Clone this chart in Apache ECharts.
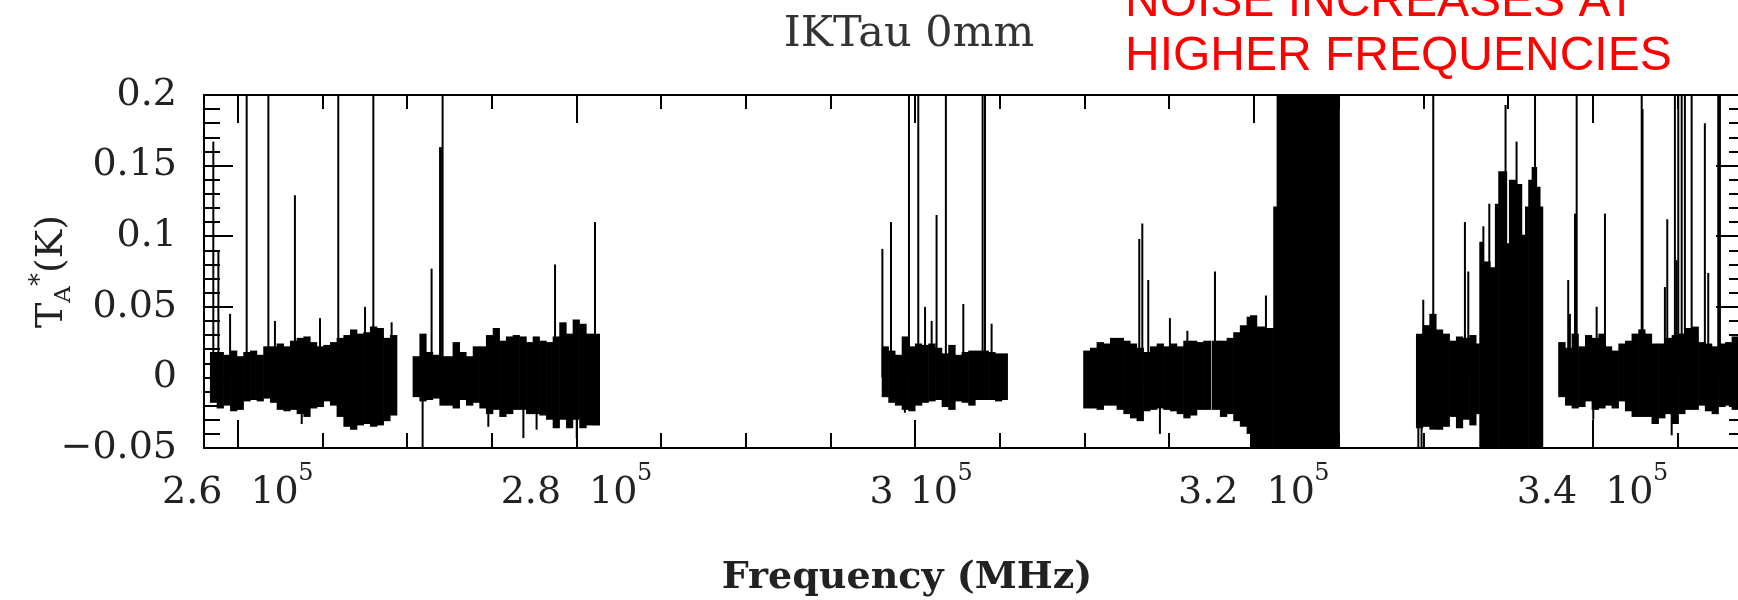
<!DOCTYPE html>
<html>
<head>
<meta charset="utf-8">
<script src="https://cdn.jsdelivr.net/npm/echarts@6/dist/echarts.min.js"></script>
<style>
  html, body { margin: 0; padding: 0; background: #fff; }
  #chart { width: 1738px; height: 600px; }
</style>
</head>
<body>
<div id="chart"></div>
<script>
// Frequency axis ticks (MHz)
const majorFreqTicks = [260000, 280000, 300000, 320000, 340000];
const minorFreqTicks = [265000, 270000, 275000, 285000, 290000, 295000, 305000, 310000,
  315000, 325000, 330000, 335000, 345000];
const freqExponent = '5';

// Baseline noise envelope per observed sub-band: [freq MHz, upper K, lower K];
// each row holds until the next row's frequency, the last row closes the band.
const bandA = [
  [258350, 0.018, -0.018], [258750, 0.018, -0.022], [259140, 0.016, -0.020], [259540, 0.019, -0.024],
  [259930, 0.015, -0.023], [260320, 0.018, -0.017], [260720, 0.019, -0.016], [261110, 0.016, -0.017],
  [261500, 0.022, -0.015], [261900, 0.022, -0.018], [262290, 0.024, -0.023], [262690, 0.022, -0.024],
  [263080, 0.026, -0.023], [263470, 0.028, -0.026], [263870, 0.029, -0.028], [264260, 0.025, -0.022],
  [264650, 0.022, -0.021], [265050, 0.023, -0.017], [265440, 0.025, -0.020], [265830, 0.028, -0.028],
  [266230, 0.030, -0.035], [266620, 0.034, -0.037], [267020, 0.031, -0.034], [267410, 0.032, -0.033],
  [267800, 0.036, -0.035], [268200, 0.035, -0.034], [268590, 0.028, -0.031], [268980, 0.030, -0.027],
  [269380, null, null]
];
const bandB = [
  [270320, 0.015, -0.014], [270720, 0.031, -0.017], [271110, 0.018, -0.016], [271500, 0.016, -0.015],
  [271900, 0.015, -0.020], [272290, 0.015, -0.020], [272680, 0.025, -0.022], [273080, 0.018, -0.016],
  [273470, 0.015, -0.020], [273870, 0.022, -0.018], [274260, 0.022, -0.022], [274650, 0.030, -0.026],
  [275050, 0.035, -0.023], [275440, 0.026, -0.028], [275830, 0.029, -0.026], [276230, 0.030, -0.023],
  [276620, 0.029, -0.023], [277020, 0.025, -0.026], [277410, 0.029, -0.026], [277800, 0.026, -0.027],
  [278200, 0.025, -0.030], [278590, 0.029, -0.036], [278980, 0.039, -0.030], [279380, 0.031, -0.036],
  [279770, 0.041, -0.030], [280160, 0.038, -0.036], [280560, 0.031, -0.034], [280950, 0.031, -0.034],
  [281350, null, null]
];
const bandC = [
  [298020, 0.022, -0.014], [298410, 0.019, -0.018], [298800, 0.016, -0.020], [299200, 0.029, -0.023],
  [299590, 0.022, -0.024], [299980, 0.024, -0.020], [300380, 0.023, -0.018], [300770, 0.024, -0.017],
  [301170, 0.021, -0.016], [301560, 0.017, -0.021], [301950, 0.023, -0.023], [302350, 0.016, -0.017],
  [302740, 0.018, -0.018], [303130, 0.019, -0.020], [303530, 0.019, -0.016], [303920, 0.019, -0.016],
  [304310, 0.018, -0.016], [304710, 0.017, -0.017], [305100, 0.017, -0.016], [305440, null, null]
];
const bandD = [
  [309920, 0.019, -0.022], [310320, 0.021, -0.022], [310710, 0.025, -0.023], [311110, 0.024, -0.020],
  [311500, 0.028, -0.020], [311890, 0.028, -0.023], [312290, 0.026, -0.026], [312680, 0.024, -0.029],
  [313070, 0.021, -0.031], [313470, 0.018, -0.024], [313860, 0.022, -0.023], [314260, 0.024, -0.022],
  [314650, 0.022, -0.023], [315040, 0.024, -0.024], [315440, 0.022, -0.026], [315830, 0.026, -0.029],
  [316220, 0.026, -0.027], [316620, 0.025, -0.023], [317010, 0.026, -0.023], [317450, null, null]
];
const bandE = [
  [317520, 0.026, -0.023], [317990, 0.026, -0.028], [318390, 0.028, -0.026], [318780, 0.032, -0.031],
  [319170, 0.037, -0.035], [319570, 0.043, -0.040], [319770, 0.044, -0.120], [320160, 0.036, -0.120],
  [320650, 0.035, -0.120], [321140, 0.121, -0.120], [321340, 0.300, -0.120], [325040, null, null]
];
const bandF = [
  [329570, 0.031, -0.036], [329960, 0.037, -0.035], [330360, 0.045, -0.037], [330750, 0.034, -0.037],
  [331140, 0.031, -0.035], [331540, 0.026, -0.028], [331930, 0.029, -0.036], [332320, 0.028, -0.030],
  [332720, 0.030, -0.034], [333110, 0.024, -0.026], [333310, 0.096, -0.120], [333510, 0.082, -0.120],
  [333700, 0.082, -0.120], [333940, 0.078, -0.120], [334230, 0.123, -0.120], [334430, 0.146, -0.120],
  [334820, 0.146, -0.120], [334920, 0.095, -0.120], [335060, 0.140, -0.120], [335510, 0.137, -0.120],
  [335810, 0.101, -0.120], [336010, 0.121, -0.120], [336200, 0.140, -0.120], [336400, 0.149, -0.120],
  [336690, 0.135, -0.120], [336890, 0.121, -0.120], [337050, null, null]
];
const bandG = [
  [337970, 0.025, -0.014], [338370, 0.021, -0.020], [338760, 0.031, -0.022], [339150, 0.022, -0.021],
  [339550, 0.030, -0.017], [339940, 0.028, -0.023], [340340, 0.031, -0.022], [340730, 0.022, -0.020],
  [341120, 0.019, -0.022], [341520, 0.024, -0.017], [341910, 0.026, -0.024], [342300, 0.031, -0.028],
  [342700, 0.034, -0.028], [343090, 0.031, -0.028], [343480, 0.024, -0.033], [343880, 0.024, -0.029],
  [344270, 0.028, -0.026], [344670, 0.030, -0.033], [345060, 0.031, -0.026], [345450, 0.035, -0.023],
  [345850, 0.036, -0.023], [346240, 0.025, -0.020], [346630, 0.024, -0.024], [347030, 0.022, -0.026],
  [347420, 0.024, -0.021], [347820, 0.025, -0.020], [348210, 0.029, -0.023], [348600, 0.030, -0.023],
  [349000, null, null]
];

// Narrow spectral features: [freq MHz, peak K]
const lineFeatures = [
  [258550, 0.167], [258850, 0.089], [259540, 0.045], [260520, 0.26], [261800, 0.26], [262190, 0.040],
  [263370, 0.129], [263770, -0.033], [264850, 0.042], [265930, 0.26], [267510, 0.050], [268000, 0.26],
  [269080, 0.039],
  [270910, -0.05], [271440, 0.077], [271940, 0.163], [271990, 0.163], [272090, 0.26], [274790, -0.035],
  [276860, -0.043], [277640, -0.037], [278730, 0.080], [280010, -0.043], [281090, 0.110],
  [298060, 0.091], [298570, 0.110], [299390, -0.025], [299630, 0.26], [300180, 0.26], [300580, 0.050],
  [300970, 0.040], [301260, 0.115], [301810, 0.26], [302840, 0.052], [303980, 0.26], [304120, 0.26],
  [304510, 0.038],
  [313230, 0.098], [313410, 0.109], [313760, 0.069], [314450, -0.040], [315040, 0.042], [316070, 0.033],
  [317700, 0.075], [320710, 0.058],
  [329710, -0.05], [329900, -0.05], [330000, 0.055], [330590, 0.26], [332460, 0.110], [332660, 0.075],
  [333550, 0.107], [333900, 0.123], [334860, 0.193], [335510, 0.167], [336600, 0.26],
  [338560, 0.069], [338660, 0.045], [338960, 0.116], [339060, 0.26], [340040, -0.030], [340240, 0.050],
  [340730, 0.116], [342900, 0.26], [342950, 0.19], [344270, 0.064], [344410, 0.112], [344670, -0.041],
  [344860, 0.26], [344960, 0.083], [345060, 0.26], [345260, 0.26], [345450, 0.26], [345850, 0.26],
  [346630, 0.18], [346830, 0.074], [347420, 0.26], [347520, 0.26]
];

// One rectangle per envelope step: [f0, f1, lower, upper]
const bandSteps = [];
[bandA, bandB, bandC, bandD, bandE, bandF, bandG].forEach(function (band) {
  for (let i = 0; i < band.length - 1; i++) {
    bandSteps.push([band[i][0], band[i + 1][0], band[i][2], band[i][1]]);
  }
});

function renderBand(params, api) {
  const p0 = api.coord([api.value(0), api.value(3)]);
  const p1 = api.coord([api.value(1), api.value(2)]);
  return {
    type: 'rect',
    shape: { x: p0[0], y: p0[1], width: p1[0] - p0[0] + 0.6, height: p1[1] - p0[1] },
    style: { fill: '#000' }
  };
}

function renderLine(params, api) {
  const base = api.coord([api.value(0), 0]);
  const tip = api.coord([api.value(0), api.value(1)]);
  return {
    type: 'line',
    shape: { x1: base[0], y1: base[1], x2: tip[0], y2: tip[1] },
    style: { stroke: '#000', lineWidth: 2 }
  };
}

const serif = 'DejaVu Serif';
const ink = '#000';
const textInk = '#222';

// Mantissa part of the frequency labels: "2.6 10" (whole-number mantissas sit closer)
const mantissaLabel = {
  show: true,
  customValues: majorFreqTicks,
  margin: 26,
  formatter: function (v) {
    const whole = Number.isInteger(v / 1e5);
    return '{m|' + (v / 1e5) + '}' + (whole ? '{ns|10}' : '{nw|10}');
  },
  rich: {
    m: { fontFamily: serif, fontSize: 38, lineHeight: 38, color: textInk },
    nw: { fontFamily: serif, fontSize: 38, lineHeight: 38, color: textInk, padding: [0, 15, 0, 28] },
    ns: { fontFamily: serif, fontSize: 38, lineHeight: 38, color: textInk, padding: [0, 3, 0, 16] }
  }
};
// Raised exponent that follows each mantissa
const exponentLabel = {
  show: true,
  customValues: majorFreqTicks,
  margin: 14,
  formatter: function (v) {
    return (Number.isInteger(v / 1e5) ? '{s|' : '{w|') + freqExponent + '}';
  },
  rich: {
    w: { fontFamily: serif, fontSize: 24, lineHeight: 24, color: textInk, padding: [0, 0, 0, 136] },
    s: { fontFamily: serif, fontSize: 24, lineHeight: 24, color: textInk, padding: [0, 0, 0, 100] }
  }
};

function freqAxis(position, ticks, tickLen, withLine, label) {
  return {
    type: 'value',
    gridIndex: 0,
    position: position,
    min: 258000,
    max: 349000,
    axisLine: { show: withLine, onZero: false, lineStyle: { color: ink, width: 2 } },
    axisTick: { show: true, inside: true, length: tickLen, customValues: ticks,
      lineStyle: { color: ink, width: 2 } },
    axisLabel: label || { show: false },
    splitLine: { show: false },
    minorTick: { show: false },
    minorSplitLine: { show: false }
  };
}

function tempAxis(position, withLabels) {
  return {
    type: 'value',
    gridIndex: 0,
    position: position,
    min: -0.05,
    max: 0.2,
    interval: 0.05,
    axisLine: { show: true, onZero: false, lineStyle: { color: ink, width: 2 } },
    axisTick: { show: true, inside: true, length: 29, lineStyle: { color: ink, width: 2 } },
    minorTick: { show: true, splitNumber: 5, length: 16, lineStyle: { color: ink, width: 2 } },
    axisLabel: withLabels ? {
      show: true,
      margin: 27,
      fontFamily: serif,
      fontSize: 38,
      color: textInk,
      formatter: function (v) { return v < 0 ? '\u2212' + Math.abs(v) : String(v); }
    } : { show: false },
    splitLine: { show: false },
    minorSplitLine: { show: false },
    name: withLabels ? '{t|T}{a|A}{s|*}{k|(K)}' : '',
    nameLocation: 'middle',
    nameRotate: 90,
    nameGap: 128,
    nameMoveOverlap: false,
    nameTextStyle: {
      color: textInk,
      rich: {
        t: { fontFamily: serif, fontSize: 38, lineHeight: 48, color: textInk },
        a: { fontFamily: serif, fontSize: 23, lineHeight: 23, color: textInk, verticalAlign: 'bottom' },
        s: { fontFamily: serif, fontSize: 26, lineHeight: 26, color: textInk, verticalAlign: 'top' },
        k: { fontFamily: serif, fontSize: 38, lineHeight: 48, color: textInk }
      }
    }
  };
}

const chart = echarts.init(document.getElementById('chart'), null, { renderer: 'canvas' });
chart.setOption({
  animation: false,
  backgroundColor: '#fff',
  title: [
    { text: 'IKTau 0mm', left: 909, top: 13, textAlign: 'center', padding: 0,
      textStyle: { fontFamily: serif, fontSize: 43, fontWeight: 'normal', color: '#333' } },
    { text: 'Frequency (MHz)', left: 907, top: 559, textAlign: 'center', padding: 0,
      textStyle: { fontFamily: serif, fontSize: 38, fontWeight: 'bold', color: textInk } },
    { text: 'NOISE INCREASES AT\nHIGHER FREQUENCIES', left: 1125, top: -24, padding: 0,
      textStyle: { fontFamily: 'Liberation Sans', fontSize: 48, lineHeight: 54, fontWeight: 'normal',
                   color: '#ff0000' } }
  ],
  grid: { left: 204, top: 95, width: 1541, height: 353, containLabel: false, outerBoundsMode: 'none' },
  xAxis: [
    freqAxis('bottom', majorFreqTicks, 28, true, mantissaLabel),
    freqAxis('bottom', minorFreqTicks, 15, false, exponentLabel),
    freqAxis('top', majorFreqTicks, 28, true, null),
    freqAxis('top', minorFreqTicks, 14, false, null)
  ],
  yAxis: [tempAxis('left', true), tempAxis('right', false)],
  series: [
    { type: 'custom', name: 'baseline', xAxisIndex: 0, yAxisIndex: 0, clip: true, silent: true,
      renderItem: renderBand, data: bandSteps },
    { type: 'custom', name: 'lines', xAxisIndex: 0, yAxisIndex: 0, clip: true, silent: true,
      renderItem: renderLine, data: lineFeatures }
  ]
});
</script>
</body>
</html>
